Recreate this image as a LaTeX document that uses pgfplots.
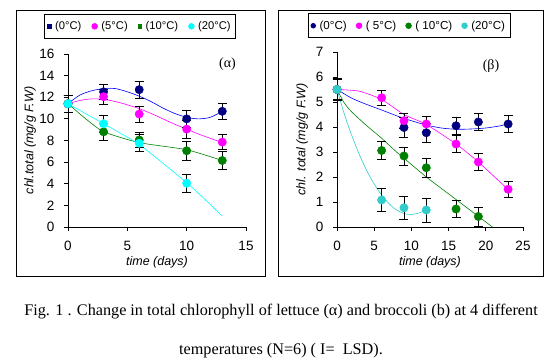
\documentclass[border=0pt]{standalone}
\usepackage{fontspec}
\setmainfont{Liberation Sans}
\newfontfamily\serifnt{Liberation Serif}
\usepackage{pgfplots}
\pgfplotsset{compat=1.18}
\definecolor{navy}{RGB}{0,0,128}
\definecolor{mag}{RGB}{255,0,255}
\definecolor{grn}{RGB}{0,128,0}
\definecolor{cyn}{RGB}{0,255,255}
\definecolor{teal2}{RGB}{51,204,204}
\definecolor{blu}{RGB}{0,0,255}
\pgfplotsset{
  myax/.style={
    scale only axis, axis lines=left,
    axis line style={-, black, line width=0.8pt},
    tick align=outside, major tick length=4pt,
    tick style={black, line width=0.8pt},
    /pgf/number format/assume math mode=true,
    ticklabel style={font=\fontsize{13.5}{15}\selectfont},
    yticklabel style={xshift=-6pt},
    xticklabel style={yshift=-7pt},
    label style={font=\itshape\fontsize{12.5}{14}\selectfont},
    clip=false,
    legend columns=4,
    legend style={draw=black, line width=0.8pt, font=\fontsize{11.2}{13}\selectfont,
      inner xsep=3pt, inner ysep=5pt,
      /tikz/every odd column/.append style={column sep=2pt},
      /tikz/every even column/.append style={column sep=8.5pt}},
  },
  dotlegend/.style={legend image code/.code={\draw[##1] plot coordinates {(0pt,0pt)};}},
  dat/.style={only marks, mark=*, mark size=4.2pt, color=#1, mark options={fill=#1, draw=#1},
    error bars/y dir=both, error bars/y explicit,
    error bars/error bar style={black, line width=0.7pt},
    error bars/error mark options={rotate=90, black, mark size=4.5pt, line width=0.7pt}},
  crv/.style={no marks, color=#1, line width=0.6pt},
}
\begin{document}
\begin{tikzpicture}
\path[use as bounding box] (0pt,0pt) rectangle (553pt,363pt);
\draw[line width=0.8pt] (16pt,353pt) rectangle (265pt,87pt);
\draw[line width=0.8pt] (278pt,353pt) rectangle (543pt,87pt);
% ---------------- left panel (lettuce) ----------------
\begin{axis}[myax, at={(68pt,136pt)}, anchor=south west, width=178pt, height=173pt,
  xmin=0, xmax=15, ymin=0, ymax=16, xtick={0,5,10,15}, ytick={0,2,...,16},
  xlabel={time (days)}, ylabel={chl.total (mg/g F.W)},
  xlabel style={at={(axis description cs:0.5,-0.202)}, anchor=center},
  ylabel style={at={(axis description cs:-0.213,0.5)}, anchor=center, rotate=0},
  legend style={at={(axis description cs:0.404,1.16)}, anchor=center}]
\addlegendimage{dotlegend, only marks, mark=square*, mark size=2pt, navy}\addlegendentry{(0°C)}
\addlegendimage{dotlegend, only marks, mark=*, mark size=2.8pt, mag}\addlegendentry{(5°C)}
\addlegendimage{dotlegend, only marks, mark=square*, mark size=1.7pt, grn}\addlegendentry{(10°C)}
\addlegendimage{dotlegend, only marks, mark=*, mark size=2.8pt, cyn}\addlegendentry{(20°C)}
% trend / connecting lines
\addplot[crv=blu, smooth, forget plot] coordinates {(0,11.4) (1,12.2) (2,12.6) (3,12.8) (4,12.8) (5,12.5) (6,12.1) (7,11.6) (8,11.0) (9,10.5) (10,10.15) (11,10.0) (12,10.15) (13,10.7)};
\addplot[crv=mag, smooth, forget plot] coordinates {(0,11.4) (1,11.7) (2,11.85) (3,11.8) (4,11.6) (5,11.3) (6,10.95) (7,10.5) (8,10.0) (9,9.5) (10,9.05) (11,8.6) (12,8.2) (13,7.8)};
\addplot[crv=grn, smooth, tension=0.3, forget plot] coordinates {(0,11.4) (1.5,10.0) (3,8.8) (6,7.8) (10,7.15) (13,6.15)};
\addplot[crv=cyn, smooth, tension=0.2, forget plot] coordinates {(0,11.4) (3,9.55) (6,7.65) (10,4.1) (11.5,2.6) (13,1.0)};
% data with LSD bars
\addplot[forget plot, dat=navy] coordinates {(0,11.4) +- (0,0.8) (3,12.5) +- (0,0.7) (6,12.7) +- (0,0.8) (10,10.0) +- (0,0.75) (13,10.7) +- (0,0.75)};
\addplot[forget plot, dat=mag] coordinates {(0,11.4) +- (0,0.8) (3,12.05) +- (0,0.7) (6,10.45) +- (0,0.75) (10,9.05) +- (0,0.85) (13,7.85) +- (0,0.7)};
\addplot[forget plot, dat=grn] coordinates {(0,11.4) +- (0,0.8) (3,8.8) +- (0,0.75) (6,8.05) +- (0,0.7) (10,7.05) +- (0,0.85) (13,6.15) +- (0,0.8)};
\addplot[forget plot, dat=cyn] coordinates {(0,11.4) +- (0,0.8) (3,9.55) +- (0,0.8) (6,7.75) +- (0,0.8) (10,4.05) +- (0,0.8)};
\node[font=\serifnt\fontsize{14}{16}\selectfont] at (axis description cs:0.896,0.942) {(α)};
\end{axis}
% ---------------- right panel (broccoli) ----------------
\begin{axis}[myax, at={(337pt,136pt)}, anchor=south west, width=186pt, height=175pt,
  xmin=0, xmax=25, ymin=0, ymax=7, xtick={0,5,...,25}, ytick={0,1,...,7},
  xlabel={time (days)}, ylabel={chl. total (mg/g F.W)},
  xlabel style={at={(axis description cs:0.5,-0.2)}, anchor=center},
  ylabel style={at={(axis description cs:-0.188,0.5)}, anchor=center, rotate=0},
  legend style={at={(axis description cs:0.387,1.15)}, anchor=center,
    font=\fontsize{11.6}{13}\selectfont,
    /tikz/every odd column/.append style={column sep=2pt},
    /tikz/every even column/.append style={column sep=7.5pt}}]
\addlegendimage{dotlegend, only marks, mark=*, mark size=2.3pt, navy}\addlegendentry{(0°C)}
\addlegendimage{dotlegend, only marks, mark=*, mark size=2.8pt, mag}\addlegendentry{( 5°C)}
\addlegendimage{dotlegend, only marks, mark=*, mark size=2.8pt, grn}\addlegendentry{( 10°C)}
\addlegendimage{dotlegend, only marks, mark=*, mark size=2.8pt, teal2}\addlegendentry{(20°C)}
\addplot[crv=blu, smooth, forget plot] coordinates {(0,5.5) (2,5.15) (4,4.9) (6,4.68) (8,4.45) (10,4.25) (12,4.08) (14,3.96) (16,3.91) (18,3.92) (20,3.96) (22,4.05) (23,4.13)};
\addplot[crv=mag, smooth, tension=0.4, forget plot] coordinates {(0,5.5) (3,5.43) (6,5.1) (9,4.5) (12,4.1) (16,3.32) (19,2.6) (23,1.5)};
\addplot[crv=grn, smooth, forget plot] coordinates {(0,5.5) (1,4.95) (2,4.6) (4,4.05) (6,3.55) (8,3.0) (10,2.5) (12,2.0) (14,1.55) (16,1.1) (18,0.65) (20,0.2) (20.9,0)};
\addplot[crv=teal2, smooth, forget plot] coordinates {(0,5.5) (1,4.5) (2,3.65) (3,2.9) (4,2.25) (5,1.72) (6,1.28) (7,0.93) (8,0.68) (9,0.54) (10,0.5) (11,0.56) (12,0.68)};
\addplot[forget plot, dat=navy] coordinates {(0,5.5) +- (0,0.45) (9,3.98) +- (0,0.4) (12,3.77) +- (0,0.38) (16,4.05) +- (0,0.35) (19,4.2) +- (0,0.33) (23,4.12) +- (0,0.33)};
\addplot[forget plot, dat=mag] coordinates {(0,5.5) +- (0,0.4) (6,5.17) +- (0,0.3) (9,4.25) +- (0,0.3) (12,4.12) +- (0,0.3) (16,3.32) +- (0,0.33) (19,2.6) +- (0,0.33) (23,1.51) +- (0,0.33)};
\addplot[forget plot, dat=grn] coordinates {(0,5.5) +- (0,0.45) (6,3.06) +- (0,0.36) (9,2.84) +- (0,0.36) (12,2.37) +- (0,0.38) (16,0.72) +- (0,0.35) (19,0.42) +- (0,0.38)};
\addplot[forget plot, dat=teal2] coordinates {(0,5.5) +- (0,0.4) (6,1.08) +- (0,0.47) (9,0.77) +- (0,0.45) (12,0.68) +- (0,0.48)};
\node[font=\serifnt\fontsize{14}{16}\selectfont] at (axis description cs:0.828,0.917) {(β)};
\end{axis}
% ---------------- caption ----------------
\node[font=\serifnt\fontsize{16.2}{18}\selectfont] at (281pt,51pt) {Fig. 1 . Change in total chlorophyll of lettuce (α) and broccoli (b) at 4 different};
\node[font=\serifnt\fontsize{16.2}{18}\selectfont] at (281pt,12pt) {temperatures (N=6) ( I=\ \ LSD).};
\end{tikzpicture}
\end{document}
